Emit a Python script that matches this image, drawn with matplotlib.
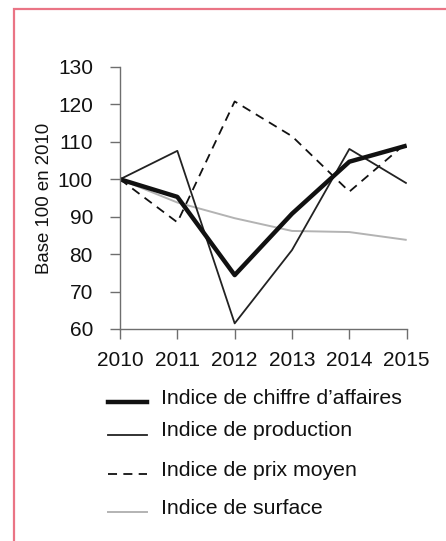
import matplotlib.pyplot as plt
from matplotlib.lines import Line2D
from matplotlib.patches import Rectangle

plt.rcParams['font.family'] = ['Liberation Sans', 'DejaVu Sans']

years = [2010, 2011, 2012, 2013, 2014, 2015]
chiffre = [100, 95.3, 74.4, 90.8, 104.7, 109.0]
production = [100, 107.6, 61.5, 81.1, 108.1, 98.9]
prix = [100, 88.5, 120.8, 111.5, 96.7, 109.8]
surface = [100, 93.8, 89.6, 86.2, 85.9, 83.8]

labels = ["Indice de chiffre d\u2019affaires", "Indice de production",
          "Indice de prix moyen", "Indice de surface"]

W, H = 446, 541
fig = plt.figure(figsize=(W / 100, H / 100), dpi=100)

# pink frame
fig.add_artist(Rectangle((14.5 / W, -0.1), 1.0, 1 - 8.5 / H + 0.1,
                         transform=fig.transFigure, fill=False,
                         edgecolor='#ea7485', linewidth=1.6))

ax = fig.add_axes([120 / W, 1 - 329 / H, (406.7 - 120) / W, (329 - 67) / H])

styles = [
    dict(color='#111111', lw=3.2, ls='-'),
    dict(color='#222222', lw=1.3, ls='-'),
    dict(color='#111111', lw=1.3, ls=(0, (5, 3.5))),
    dict(color='#b3b3b3', lw=1.4, ls='-'),
]
series = [chiffre, production, prix, surface]
draw_order = [3, 2, 1, 0]
for i in draw_order:
    ax.plot(years, series[i], **styles[i], solid_capstyle='butt')

ax.set_xlim(2010, 2015)
ax.set_ylim(60, 130)
ax.set_xticks(years)
ax.set_yticks(range(60, 131, 10))
for s in ['top', 'right']:
    ax.spines[s].set_visible(False)
for s in ['left', 'bottom']:
    ax.spines[s].set_color('#6e6e6e')
    ax.spines[s].set_linewidth(1.0)
ax.tick_params(axis='both', colors='#6e6e6e', labelcolor='#111111',
               length=7.5, width=1.0, labelsize=15)
ax.tick_params(axis='x', pad=8)
ax.tick_params(axis='y', pad=12)
ax.set_ylabel("Base 100 en 2010", fontsize=13.4, color='#111111')
ax.yaxis.set_label_coords(-0.234, 0.5)
ax.patch.set_visible(False)

# legend
leg_y = [402, 435, 474, 512]
for i, y in enumerate(leg_y):
    st = styles[i]
    fig.add_artist(Line2D([108 / W, 147 / W], [1 - y / H, 1 - y / H],
                          transform=fig.transFigure, color=st['color'],
                          lw=st['lw'], ls=st['ls']))
    fig.text(161 / W, 1 - (y - 4) / H, labels[i], fontsize=15.3,
             color='#111111', va='center', ha='left')

fig.savefig('out.png', dpi=100)
